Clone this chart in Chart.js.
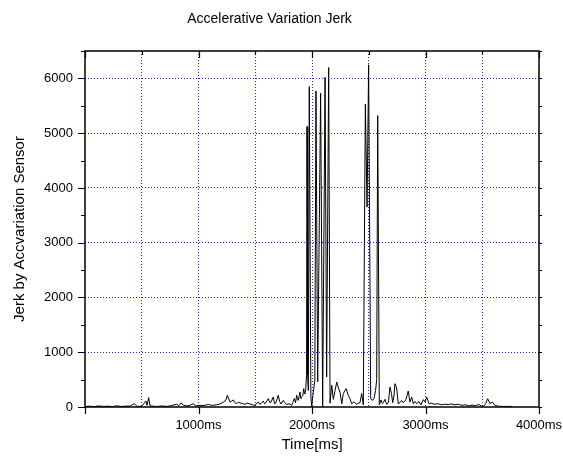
<!DOCTYPE html>
<html>
<head>
<meta charset="utf-8">
<script src="https://cdn.jsdelivr.net/npm/chart.js@4/dist/chart.umd.min.js"></script>
<style>
  html, body { margin: 0; padding: 0; background: #fff; }
  canvas { display: block; }
</style>
</head>
<body>
<canvas id="c" width="563" height="461"></canvas>
<script>
// ---- data ----
const timeMs = [0,40,80,120,160,200,240,280,320,360,400,434,460,500,537,546,561,573,600,640,680,720,760,808,825,846,870,900,930,952,975,1004,1040,1087,1120,1160,1189,1219,1240,1254,1278,1295,1307,1320,1336,1350,1366,1390,1410,1430,1454,1475,1498,1515,1527,1540,1551,1571,1582,1592,1615,1628,1639,1659,1670,1680,1703,1715,1727,1747,1760,1777,1800,1821,1835,1844,1855,1865,1872,1879,1894,1902,1909,1918,1927,1933,1938,1945,1952,1956,1962,1968,1976,1990,1997,2010,2025,2035,2050,2076,2094,2115,2129,2147,2159,2174,2188,2203,2218,2232,2247,2262,2276,2290,2300,2320,2335,2350,2365,2379,2390,2400,2412,2423,2438,2452,2470,2485,2499,2517,2530,2546,2560,2570,2579,2593,2607,2620,2628,2643,2658,2673,2687,2700,2711,2722,2731,2746,2760,2775,2790,2804,2815,2828,2848,2863,2878,2893,2907,2922,2943,2960,2981,2996,3010,3031,3050,3080,3110,3140,3170,3200,3230,3260,3290,3320,3350,3380,3410,3440,3470,3490,3509,3530,3548,3568,3589,3612,3642,3680,3720,3760];
const jerk = [10,15,5,20,10,15,8,20,10,15,20,62,10,15,110,30,170,20,15,10,20,10,25,50,20,75,30,20,35,60,20,30,25,45,30,40,55,90,120,214,90,110,130,80,60,90,75,60,50,70,55,40,30,70,90,50,65,110,60,75,153,80,90,183,60,70,214,100,55,120,80,45,60,30,100,153,80,214,150,120,275,150,183,200,336,250,240,330,580,5120,580,300,5850,200,10,245,488,5770,460,5730,10,6020,550,6200,70,397,140,300,457,350,270,60,244,300,335,212,150,60,90,80,50,60,70,80,244,40,5530,3650,6250,160,120,150,300,500,5320,40,130,60,80,140,50,80,365,250,80,200,426,350,60,80,120,80,100,140,292,90,183,60,100,60,100,40,134,90,183,60,70,50,60,40,50,45,55,40,50,30,40,20,35,25,45,20,10,60,152,60,90,30,15,10,10,10];

const xGridValues = [0,500,1000,1500,2000,2500,3000,3500,4000];
const xTickValues = [1000,2000,3000,4000];
const xTickLabels = ['1000ms','2000ms','3000ms','4000ms'];
const yTickValues = [0,1000,2000,3000,4000,5000,6000];
const yTickLabels = ['0','1000','2000','3000','4000','5000','6000'];
const yMinorValues = [500,1500,2500,3500,4500,5500,6500];

const chartTitle = 'Accelerative Variation Jerk';
const xTitle = 'Time[ms]';
const yTitle = 'Jerk by Accvariation Sensor';

// ---- chart ----
const GRID_BLUE = '#2020ff';
const FONT = "Arial, 'Liberation Sans', sans-serif";

const framePlugin = {
  id: 'frame',
  afterDraw(chart) {
    const {ctx, chartArea: a, scales: {x, y}} = chart;
    ctx.save();
    ctx.strokeStyle = '#000';
    ctx.lineWidth = 1.5;
    ctx.strokeRect(a.left, a.top, a.right - a.left, a.bottom - a.top);
    ctx.lineWidth = 1.2;
    ctx.beginPath();
    xTickValues.concat([0]).forEach(v => {
      const px = Math.round(x.getPixelForValue(v)) + 0.5;
      ctx.moveTo(px, a.bottom); ctx.lineTo(px, a.bottom + 7);
    });
    xGridValues.forEach(v => {
      const px = Math.round(x.getPixelForValue(v)) + 0.5;
      const len = (v % 1000 === 0) ? 7 : 4;
      ctx.moveTo(px, a.top); ctx.lineTo(px, a.top + len);
    });
    yTickValues.forEach(v => {
      const py = Math.round(y.getPixelForValue(v)) + 0.5;
      ctx.moveTo(a.left, py); ctx.lineTo(a.left - 7, py);
    });
    yMinorValues.forEach(v => {
      const py = Math.round(y.getPixelForValue(v)) + 0.5;
      ctx.moveTo(a.left, py); ctx.lineTo(a.left - 4, py);
    });
    yTickValues.concat(yMinorValues).forEach(v => {
      const py = Math.round(y.getPixelForValue(v)) + 0.5;
      ctx.moveTo(a.right, py); ctx.lineTo(a.right + 3, py);
    });
    ctx.stroke();
    ctx.restore();
  }
};

new Chart(document.getElementById('c'), {
  type: 'line',
  data: {
    datasets: [{
      data: timeMs.map((t, i) => ({x: t, y: jerk[i]})),
      borderColor: '#000',
      borderWidth: 1,
      pointRadius: 0,
      tension: 0,
      fill: false
    }]
  },
  options: {
    responsive: false,
    animation: false,
    devicePixelRatio: 1,
    layout: { padding: { left: 0, right: 24, top: 0, bottom: 0 } },
    plugins: {
      legend: { display: false },
      tooltip: { enabled: false },
      title: {
        display: true,
        text: chartTitle,
        color: '#000',
        font: { family: FONT, size: 14, weight: 'normal' },
        padding: { top: 11, bottom: 23.2 }
      }
    },
    scales: {
      x: {
        type: 'linear',
        min: 0, max: 4000,
        afterBuildTicks: s => { s.ticks = xGridValues.map(v => ({value: v})); },
        afterFit: s => { s.height = 54; s.paddingLeft = 0; s.paddingRight = 0; },
        ticks: {
          autoSkip: false,
          maxRotation: 0,
          padding: 11,
          color: '#000',
          font: { family: FONT, size: 13 },
          callback: v => { const i = xTickValues.indexOf(v); return i >= 0 ? xTickLabels[i] : ''; }
        },
        grid: {
          drawTicks: false,
          lineWidth: 1,
          color: c => (c.tick && (c.tick.value === 0 || c.tick.value === 4000)) ? 'rgba(0,0,0,0)' : GRID_BLUE
        },
        border: { display: false, dash: [1, 2] },
        title: {
          display: true, text: xTitle, color: '#000',
          font: { family: FONT, size: 15 },
          padding: { top: 0, bottom: 7 }
        }
      },
      y: {
        type: 'linear',
        min: 0, max: 6500,
        afterBuildTicks: s => { s.ticks = yTickValues.map(v => ({value: v})); },
        afterFit: s => { s.width = 85; s.paddingTop = 0; s.paddingBottom = 0; },
        ticks: {
          autoSkip: false,
          padding: 12,
          color: '#000',
          font: { family: FONT, size: 13 },
          callback: v => { const i = yTickValues.indexOf(v); return i >= 0 ? yTickLabels[i] : ''; }
        },
        grid: {
          drawTicks: false,
          lineWidth: 1,
          color: c => (c.tick && c.tick.value === 0) ? 'rgba(0,0,0,0)' : GRID_BLUE
        },
        border: { display: false, dash: [1, 2] },
        title: {
          display: true, text: yTitle, color: '#000',
          font: { family: FONT, size: 15 },
          padding: { top: 11, bottom: 0 }
        }
      }
    }
  },
  plugins: [framePlugin]
});
</script>
</body>
</html>
